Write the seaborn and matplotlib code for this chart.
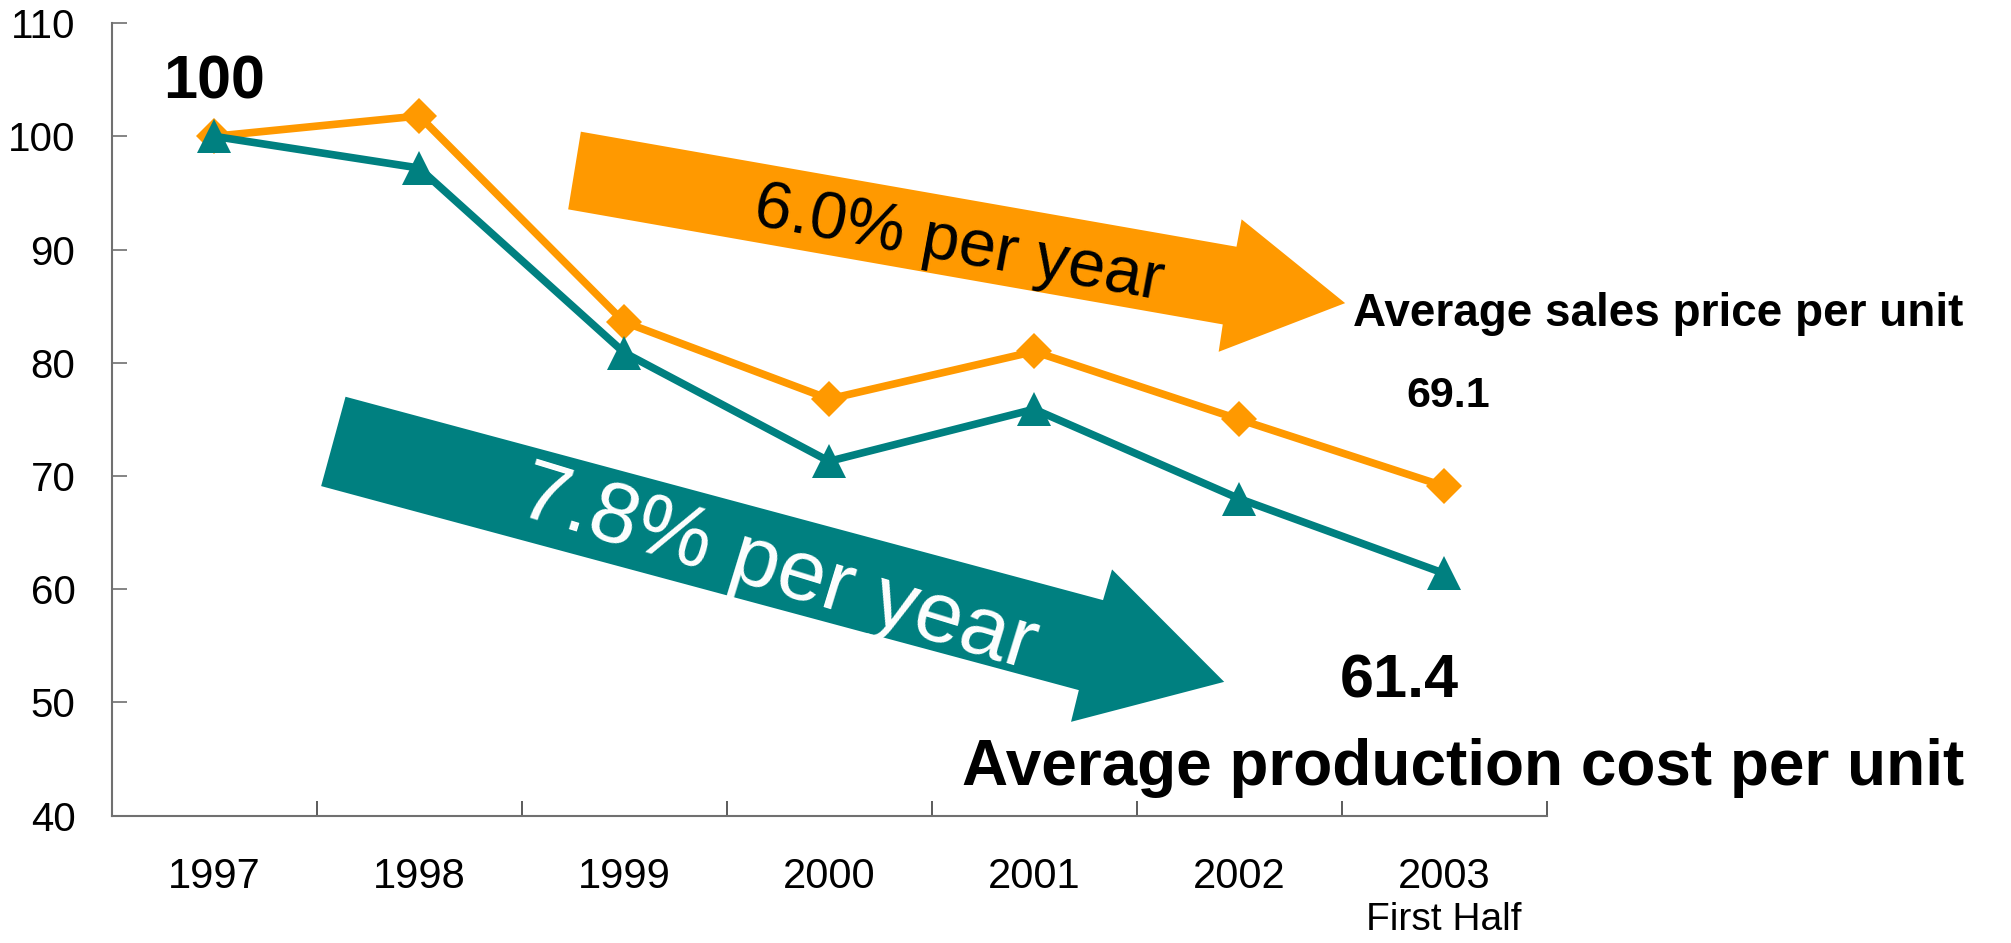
import numpy as np
import pandas as pd
import matplotlib
matplotlib.use("Agg")
import matplotlib.pyplot as plt
from matplotlib.patches import Polygon
import seaborn as sns

years = ["1997", "1998", "1999", "2000", "2001", "2002", "2003"]
sales_price = [100.0, 101.8, 83.6, 76.8, 81.0, 75.0, 69.1]
prod_cost = [100.0, 97.2, 80.9, 71.3, 75.9, 68.0, 61.4]
y_ticks = [40, 50, 60, 70, 80, 90, 100, 110]

ORANGE = "#FF9900"
TEAL = "#008080"

sns.set_theme(style="white")
plt.rcParams["font.family"] = ["Liberation Sans", "DejaVu Sans"]
plt.rcParams["text.color"] = "black"
plt.rcParams["xtick.color"] = "black"
plt.rcParams["ytick.color"] = "black"
plt.rcParams["xtick.labelcolor"] = "black"
plt.rcParams["ytick.labelcolor"] = "black"

fig = plt.figure(figsize=(20.11, 9.43), dpi=100)
ax = fig.add_axes([0.0555, 0.135, 0.7136, 0.8405])

x = np.arange(len(years))
df = pd.DataFrame({"x": np.concatenate([x, x]),
                   "value": sales_price + prod_cost,
                   "series": ["price"] * len(x) + ["cost"] * len(x)})

sns.lineplot(data=df[df.series == "price"], x="x", y="value", ax=ax,
             color=ORANGE, linewidth=5.5, marker="D", markersize=18,
             markeredgecolor=ORANGE, markeredgewidth=0, zorder=3)
sns.lineplot(data=df[df.series == "cost"], x="x", y="value", ax=ax,
             color=TEAL, linewidth=5.5, marker="^", markersize=25,
             markeredgecolor=TEAL, markeredgewidth=0, zorder=4)

ax.set_xlim(-0.5, 6.5)
ax.set_ylim(40, 110)
ax.set_xlabel("")
ax.set_ylabel("")

for s in ["top", "right"]:
    ax.spines[s].set_visible(False)
for s in ["left", "bottom"]:
    ax.spines[s].set_color("#707070")
    ax.spines[s].set_linewidth(1.5)

ax.set_yticks(y_ticks)
ax.set_yticklabels([str(v) for v in y_ticks], fontsize=29, color="black")
ax.tick_params(axis="y", direction="in", length=11, width=1.2,
               color="#707070", pad=26, left=True)

ax.set_xticks(x)
ax.set_xticklabels(years, fontsize=30, color="black")
ax.tick_params(axis="x", which="major", length=0, pad=30)
ax.set_xticks(np.arange(-0.5, 7.0, 1.0), minor=True)
ax.tick_params(axis="x", which="minor", direction="in", length=11,
               width=1.2, color="#404040", bottom=True)

ax.text(6, 40 - 9.2, "First Half", fontsize=28, color="black",
        ha="center", va="center", clip_on=False)

# arrows (decorations)
orange_arrow = [(1.789, 100.41), (4.987, 90.25), (5.012, 92.67), (5.517, 85.27),
                (4.900, 80.97), (4.920, 83.39), (1.727, 93.55)]
teal_arrow = [(0.641, 77.0), (4.336, 59.04), (4.380, 61.75), (4.927, 51.82),
              (4.180, 48.29), (4.218, 51.09), (0.522, 69.11)]
ax.add_patch(Polygon(orange_arrow, closed=True, facecolor=ORANGE,
                     edgecolor="none", zorder=2))
ax.add_patch(Polygon(teal_arrow, closed=True, facecolor=TEAL,
                     edgecolor="none", zorder=2))

ax.text(3.634, 90.4, "6.0% per year", fontsize=48, color="black",
        rotation=-10.5, rotation_mode="anchor", ha="center", va="center", zorder=5)
ax.text(2.75, 61.7, "7.8% per year", fontsize=62, color="white",
        rotation=-17, rotation_mode="anchor", ha="center", va="center", zorder=5)

ax.text(0.0, 104.7, "100", fontsize=44, fontweight="bold", color="black",
        ha="center", va="center", zorder=6)
ax.text(6.02, 77.1, "69.1", fontsize=31, fontweight="bold", color="black",
        ha="center", va="center", clip_on=False)
ax.text(5.556, 84.3, "Average sales price per unit", fontsize=33,
        fontweight="bold", color="black", ha="left", va="center", clip_on=False)
ax.text(5.78, 51.8, "61.4", fontsize=44, fontweight="bold", color="black",
        ha="center", va="center", clip_on=False)
ax.text(3.648, 44.2, "Average production cost per unit", fontsize=46,
        fontweight="bold", color="black", ha="left", va="center", clip_on=False)

fig.savefig("out.png", dpi=100)
